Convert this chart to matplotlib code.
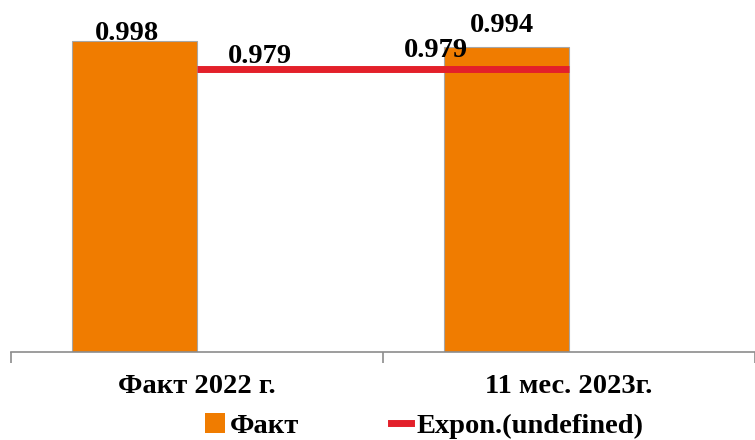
import numpy as np
import matplotlib.pyplot as plt
from matplotlib.patches import Patch
from matplotlib.lines import Line2D

categories = ["Факт 2022 г.", "11 мес. 2023г."]
fact = [0.998, 0.994]
trend = [0.979, 0.979]
fact_labels = ["0.998", "0.994"]
trend_labels = ["0.979", "0.979"]

orange = "#F07C00"
red = "#E3202A"
grey = "#8C8C8C"

plt.rcParams["font.family"] = ["Liberation Serif", "DejaVu Serif"]
plt.rcParams["font.weight"] = "bold"

fig = plt.figure(figsize=(7.55, 4.4), dpi=100)
ax = fig.add_axes([11 / 755, 0.2, 1 - 11 / 755, 0.8])

x = np.arange(len(categories))
w = 0.336
bx = x - 0.168
ax.bar(bx, fact, width=w, color=orange, edgecolor="#A6A6A6", linewidth=0.8, zorder=2)
ax.plot(x, trend, color=red, linewidth=5, solid_capstyle="butt", zorder=3)

# value labels
for xi, v, s, dx, dy in zip(bx, fact, fact_labels, [-8, -5], [1, 15]):
    ax.annotate(s, (xi, v), xytext=(dx, dy), textcoords="offset pixels",
                ha="center", va="baseline", fontsize=20.5, fontweight="bold")
for xi, v, s, dx, dy in zip(x, trend, trend_labels, [63, -133], [6, 12]):
    ax.annotate(s, (xi, v), xytext=(dx, dy), textcoords="offset pixels",
                ha="center", va="baseline", fontsize=20.5, fontweight="bold", zorder=4)

ax.set_xlim(-0.5, 1.5)
ax.set_ylim(0.787, 1.026)
ax.set_yticks([])
for sp in ["left", "right", "top"]:
    ax.spines[sp].set_visible(False)
ax.spines["bottom"].set_color(grey)
ax.spines["bottom"].set_linewidth(1.2)

ax.set_xticks([-0.5, 0.5, 1.5])
ax.set_xticklabels([])
ax.tick_params(axis="x", which="major", direction="out", length=8, width=1.2, color=grey)
ax.set_xticks(x, minor=True)
ax.set_xticklabels(categories, minor=True, fontsize=20.5, fontweight="bold")
ax.tick_params(axis="x", which="minor", length=0, pad=16)

handles = [Patch(facecolor=orange, edgecolor="none"),
           Line2D([0], [0], color=red, linewidth=5)]
fig.legend(handles, ["Факт", "Expon.(undefined)"], loc="center",
           bbox_to_anchor=(424 / 755, 1 - 426 / 440), ncol=2, frameon=False,
           handlelength=0.7, handleheight=0.7, handletextpad=0.2,
           columnspacing=3.2, borderpad=0.1, prop={"weight": "bold", "size": 20.5})

fig.savefig("out.png", dpi=100)
